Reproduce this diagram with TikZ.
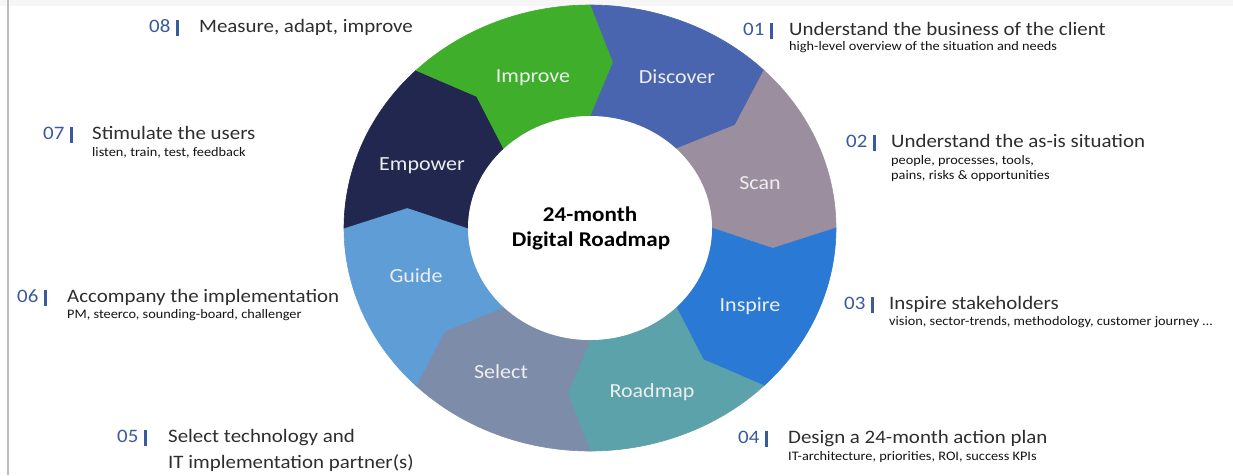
\documentclass[tikz,border=0pt]{standalone}
\usepackage{fontspec}
\setmainfont{Carlito}[FakeStretch=1.1]
\definecolor{cDiscover}{HTML}{4A65B0}
\definecolor{cScan}{HTML}{9B8F9F}
\definecolor{cInspire}{HTML}{2A7AD5}
\definecolor{cRoadmap}{HTML}{5BA2AB}
\definecolor{cSelect}{HTML}{7D8CA8}
\definecolor{cGuide}{HTML}{5E9DD6}
\definecolor{cEmpower}{HTML}{22274F}
\definecolor{cImprove}{HTML}{3FAE2A}
\definecolor{numblue}{HTML}{3A5A9E}
\definecolor{ttlgray}{HTML}{2E2E2E}
\definecolor{subgray}{HTML}{141414}
\definecolor{topgray}{HTML}{F6F6F6}
\definecolor{edgegray}{HTML}{BDBDBD}
\definecolor{lbl}{HTML}{EEEEEE}
\newcommand\rcx{590}
\newcommand\rcy{-228}
\newcommand\oRx{246}
\newcommand\oRy{223}
\newcommand\iRx{122}
\newcommand\iRy{112}
\newcommand\mRx{184}
\newcommand\mRy{167}
\newcommand\tipd{7}
\newcommand\ringseg[3]{%
  \fill[#1, draw=#1, line width=0.6pt]
    ({\rcx+\oRx*cos(#2)},{\rcy+\oRy*sin(#2)})
    arc[start angle=#2, end angle=#3, x radius=\oRx, y radius=\oRy]
    -- ({\rcx+\mRx*cos(#3-\tipd)},{\rcy+\mRy*sin(#3-\tipd)})
    -- ({\rcx+\iRx*cos(#3)},{\rcy+\iRy*sin(#3)})
    arc[start angle=#3, end angle=#2, x radius=\iRx, y radius=\iRy]
    -- ({\rcx+\mRx*cos(#2-\tipd)},{\rcy+\mRy*sin(#2-\tipd)})
    -- cycle;}
\newcommand\numbar[1]{#1\hspace{6pt}\rule[-4pt]{2.4pt}{16pt}}
\begin{document}
\begin{tikzpicture}[x=1pt,y=1pt,
  seglbl/.style={anchor=base, inner sep=0pt, text=lbl, font=\fontsize{20}{20}\selectfont},
  ctr/.style={anchor=base, inner sep=0pt, text=black, font=\bfseries\fontsize{21}{21}\selectfont},
  numlbl/.style={anchor=base west, inner sep=0pt, text=numblue, font=\fontsize{19}{19}\selectfont},
  ttl/.style={anchor=base west, inner sep=0pt, text=ttlgray, font=\fontsize{19}{19}\selectfont},
  sub/.style={anchor=base west, inner sep=0pt, text=subgray, font=\fontsize{13}{13}\selectfont}]
\useasboundingbox (0,0) rectangle (1233,-475);
\fill[white] (0,0) rectangle (1233,-475);
\fill[topgray] (0,0) rectangle (1233,-6);
\fill[edgegray] (7,0) rectangle (9,-475);

\ringseg{cDiscover}{90}{45}
\ringseg{cScan}{45}{0}
\ringseg{cInspire}{0}{-45}
\ringseg{cRoadmap}{-45}{-90}
\ringseg{cSelect}{-90}{-135}
\ringseg{cGuide}{-135}{-180}
\ringseg{cEmpower}{180}{135}
\ringseg{cImprove}{135}{90}
\fill[white] (\rcx,\rcy) ellipse[x radius=\iRx, y radius=\iRy];

\node[seglbl] (lDiscover) at (677,-83) {Discover};
\node[seglbl] (lScan) at (760,-189) {Scan};
\node[seglbl] (lInspire) at (750,-311) {Inspire};
\node[seglbl] (lRoadmap) at (652,-397) {Roadmap};
\node[seglbl] (lSelect) at (501,-378) {Select};
\node[seglbl] (lGuide) at (416,-282) {Guide};
\node[seglbl] (lEmpower) at (422,-170) {Empower};
\node[seglbl] (lImprove) at (533,-82) {Improve};

\node[ctr] (c1) at (590,-221) {24-month};
\node[ctr] (c2) at (591,-246) {Digital Roadmap};

\node[numlbl] (n1) at (743,-35) {\numbar{01}};
\node[ttl] (t1) at (789,-35) {Understand the business of the client};
\node[sub] (s1) at (789,-50) {high-level overview of the situation and needs};

\node[numlbl] (n2) at (846,-147) {\numbar{02}};
\node[ttl] (t2) at (891,-147) {Understand the as-is situation};
\node[sub] (s2a) at (891,-164) {people, processes, tools,};
\node[sub] (s2b) at (891,-179) {pains, risks \& opportunities};

\node[numlbl] (n3) at (844,-309) {\numbar{03}};
\node[ttl] (t3) at (889,-309) {Inspire stakeholders};
\node[sub] (s3) at (889,-325) {vision, sector-trends, methodology, customer journey \dots};

\node[numlbl] (n4) at (738,-443) {\numbar{04}};
\node[ttl] (t4) at (788,-443) {Design a 24-month action plan};
\node[sub] (s4) at (788,-460) {IT-architecture, priorities, ROI, success KPIs};

\node[numlbl] (n5) at (117,-442) {\numbar{05}};
\node[ttl] (t5a) at (168,-442) {Select technology and};
\node[ttl] (t5b) at (168,-468) {IT implementation partner(s)};

\node[numlbl] (n6) at (17,-302) {\numbar{06}};
\node[ttl] (t6) at (67,-302) {Accompany the implementation};
\node[sub] (s6) at (67,-318) {PM, steerco, sounding-board, challenger};

\node[numlbl] (n7) at (43,-139) {\numbar{07}};
\node[ttl] (t7) at (92,-139) {Stimulate the users};
\node[sub] (s7) at (92,-156) {listen, train, test, feedback};

\node[numlbl] (n8) at (149,-32) {\numbar{08}};
\node[ttl] (t8) at (199,-32) {Measure, adapt, improve};
\end{tikzpicture}
\end{document}
